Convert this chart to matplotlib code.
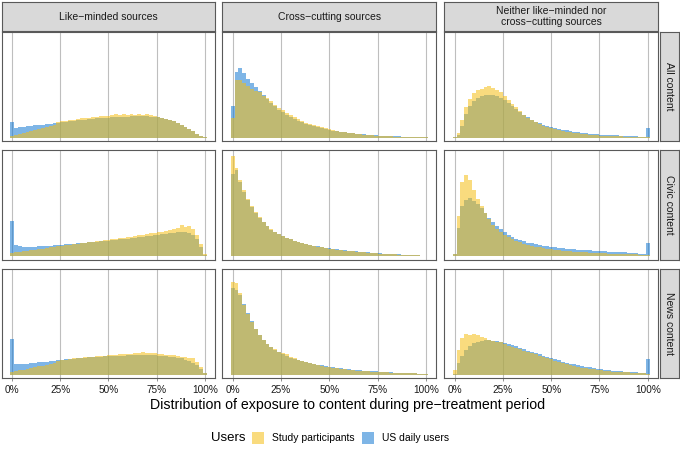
import numpy as np
import matplotlib.pyplot as plt
from matplotlib.patches import Rectangle

plt.rcParams['font.family'] = ['Liberation Sans', 'DejaVu Sans']

# column / row facets
col_labels = ['Like−minded sources', 'Cross−cutting sources',
              'Neither like−minded nor\ncross−cutting sources']
row_labels = ['All content', 'Civic content', 'News content']
tick_pos = [0, 25, 50, 75, 100]
tick_labels = ['0%', '25%', '50%', '75%', '100%']

# histogram heights, 2% bins centred on 0, 2, ..., 100
bin_centers = np.arange(0, 101, 2)

us_like_all = [16, 10, 10.5, 11, 11.4, 11.8, 12.2, 12.6, 13, 13.4, 13.8, 14.3, 14.8, 15.3, 15.8, 16.3, 16.8,
               17.2, 17.6, 18, 18.4, 18.8, 19.2, 19.5, 19.8, 20.1, 20.4, 20.6, 20.8, 21, 21.1, 21.2, 21.3,
               21.3, 21.3, 21.2, 21.1, 20.9, 20.6, 20, 19, 17.8, 16.2, 14.5, 12.6, 10.6, 8.5, 6.3, 4, 1.8, 0.3]
study_like_all = [1.5, 2.5, 3.6, 4.7, 5.8, 6.8, 7.8, 8.8, 9.8, 10.8, 11.8, 13, 15.5, 16.5, 16.8, 17.5, 18,
                  18.8, 19.2, 19.5, 20, 20.8, 20.5, 21.5, 21.8, 22, 22.8, 23.5, 22.5, 24, 23, 23.5, 22.5,
                  23.8, 23, 23.2, 22.5, 22, 21, 20, 19, 17.8, 16.2, 14.5, 12.6, 10.6, 8.5, 6.3, 4, 1.8, 0.3]

us_cross_all = [32, 66, 70, 65, 59, 55, 51, 46.5, 42.5, 38.5, 35, 31.5, 28, 25.5, 23, 21, 19, 17, 15.5, 14,
                12.8, 11.6, 10.5, 9.5, 8.6, 7.8, 7, 6.3, 5.7, 5.1, 4.6, 4.2, 3.8, 3.4, 3.1, 2.8, 2.5, 2.2, 2,
                1.8, 1.6, 1.4, 1.2, 1.05, 0.9, 0.75, 0.6, 0.5, 0.4, 0.3, 0.2]
study_cross_all = [20, 58, 58, 55, 52, 49, 47, 45.5, 41.5, 39.5, 36.5, 33, 30, 27.5, 25, 22.5, 20.5, 18.5,
                   16.5, 15, 13.7, 12.4, 11.2, 10.1, 9.1, 8.2, 7.3, 6.5, 5.8, 5.2, 4.6, 4.1, 3.6, 3.2, 2.8,
                   2.5, 2.2, 1.9, 1.7, 1.5, 1.3, 1.1, 1, 0.85, 0.7, 0.6, 0.5, 0.4, 0.3, 0.25, 0.2]

us_neither_all = [0.5, 3, 12, 24, 32, 37, 40, 41.5, 42.5, 43, 42.8, 42, 40, 37.5, 35, 32, 29, 26, 23, 20.5,
                  18, 16, 14.3, 12.8, 11.6, 10.5, 9.6, 8.7, 7.9, 7.1, 6.4, 5.8, 5.2, 4.7, 4.3, 3.9, 3.6,
                  3.3, 3, 2.7, 2.5, 2.3, 2.1, 1.9, 1.7, 1.5, 1.3, 1.15, 1, 0.9, 10]
study_neither_all = [0.3, 5, 18, 31, 39, 45, 48, 49, 50.5, 52, 49.5, 48, 45.5, 42, 38, 34, 30.5, 26.5, 23,
                     20, 17.5, 15.3, 13.5, 12, 10.6, 9.4, 8.4, 7.5, 6.7, 6, 5.3, 4.7, 4.2, 3.7, 3.3, 2.9,
                     2.6, 2.3, 2, 1.8, 1.6, 1.4, 1.25, 1.1, 1, 0.9, 0.8, 0.7, 0.6, 0.5, 0.5]

us_like_civic = [35, 11, 9.8, 9.4, 9.3, 9.3, 9.4, 9.6, 9.8, 10.1, 10.4, 10.7, 11, 11.3, 11.6, 12, 12.4, 12.8,
                 13.2, 13.5, 13.9, 14.2, 14.5, 14.8, 15.1, 15.4, 15.8, 16.2, 16.6, 17, 17.4, 17.9, 18.4,
                 18.9, 19.4, 19.9, 20.4, 20.9, 21.4, 21.9, 22.4, 22.9, 23.3, 23.6, 23.8, 23.8, 23.2, 21.5,
                 17, 9, 1.5]
study_like_civic = [3.5, 4, 4.5, 5, 5.5, 6, 6.5, 7, 7.5, 8, 8.6, 9.2, 9.8, 10.3, 10.8, 11.3, 11.8, 12.3, 12.8,
                    13.3, 13.8, 14.3, 14.8, 15.3, 15.8, 16.3, 16.8, 17.3, 17.8, 18.3, 18.8, 19.4, 20, 20.6,
                    21.2, 21.8, 22.8, 23.5, 24, 24.5, 25.2, 26, 27, 28.5, 31.5, 29.5, 30.5, 27, 21, 12, 2]

us_cross_civic = [82, 86, 74, 64, 56, 49, 43, 38, 34, 30, 26.5, 24, 21.8, 19.8, 18.1, 16.7, 15.4, 14.2, 13.1,
                  12.2, 11.3, 10.5, 9.8, 9.1, 8.5, 7.9, 7.3, 6.8, 6.3, 5.8, 5.4, 5, 4.6, 4.2, 3.9, 3.6, 3.3,
                  3, 2.7, 2.4, 2.2, 2, 1.8, 1.6, 1.4, 1.2, 1, 0.85, 0.7, 0.5, 0.3]
study_cross_civic = [100, 88, 76, 66, 57, 50, 44, 39, 34.5, 30.5, 27, 24.5, 22, 20, 18.3, 16.8, 15.4, 14.1, 13,
                     12, 11.1, 10.3, 9.5, 8.8, 8.1, 7.5, 6.9, 6.4, 5.9, 5.4, 5, 4.6, 4.2, 3.9, 3.6, 3.3, 3,
                     2.8, 2.5, 2.3, 2.1, 1.9, 1.7, 1.5, 1.3, 1.15, 1, 0.8, 0.65, 0.5, 0.3]

us_neither_civic = [2, 28, 50, 56, 57.5, 55, 51.5, 47.5, 42.5, 38, 34, 30.5, 27, 24, 21.5, 19.3, 17.5, 16,
                    14.7, 13.5, 12.6, 11.8, 11, 10.3, 9.7, 9.2, 8.7, 8.3, 7.8, 7.4, 7, 6.7, 6.4, 6.1, 5.8,
                    5.6, 5.4, 5.1, 4.9, 4.7, 4.5, 4.3, 4.1, 3.9, 3.6, 3.4, 3.1, 2.8, 2.4, 2, 13]
study_neither_civic = [2, 40, 74, 81, 76, 66, 57, 50, 43, 37, 31, 27, 24, 21.3, 19, 17, 15.2, 13.7, 12.4,
                       11.3, 10.3, 9.5, 8.7, 8, 7.3, 6.7, 6.2, 5.7, 5.3, 4.9, 4.6, 4.3, 4, 3.8, 3.6, 3.4,
                       3.2, 3, 2.8, 2.6, 2.5, 2.3, 2.2, 2, 1.9, 1.8, 1.7, 1.6, 1.5, 1.3, 1]

us_like_news = [36, 11, 10.2, 10.5, 10.9, 11.3, 11.7, 12.1, 12.5, 13, 13.5, 14, 14.6, 15, 15.4, 15.7, 16,
                16.3, 16.6, 16.9, 17.2, 17.5, 17.8, 18, 18.2, 18.4, 18.6, 18.8, 19, 19.1, 19.2, 19.3, 19.4,
                19.5, 19.5, 19.5, 19.4, 19.3, 19.1, 18.8, 18.4, 18, 17.5, 16.9, 16.1, 15, 13.7, 12, 9.5, 6,
                1.5]
study_like_news = [2.7, 3.5, 4.2, 5, 5.8, 6.6, 7.4, 8.2, 9, 9.9, 10.9, 12, 13.6, 14.6, 15, 15.6, 16.2, 16.3,
                   16.8, 17.4, 17.6, 18, 18.3, 18.9, 18.8, 19.3, 19.8, 19.6, 20.2, 20.4, 20.8, 20.6, 21.2,
                   21.6, 22.6, 21.8, 21.5, 21.2, 20.7, 20.9, 20, 19.7, 19.3, 18.6, 18, 17.3, 16.8, 16.3,
                   12.5, 7.5, 1.5]

us_cross_news = [87, 85, 80, 71, 62, 53.5, 46, 40, 35, 31, 27.5, 24.8, 22.3, 20.3, 18.5, 17, 15.7, 14.5,
                 13.4, 12.4, 11.5, 10.6, 9.8, 9.1, 8.4, 7.8, 7.2, 6.7, 6.2, 5.7, 5.3, 4.9, 4.5, 4.2, 3.9,
                 3.6, 3.3, 3.1, 2.8, 2.6, 2.4, 2.2, 2, 1.8, 1.6, 1.4, 1.25, 1.1, 0.95, 0.8, 0.6]
study_cross_news = [93, 92, 82, 70, 61, 53, 45.5, 39.5, 35, 31, 28, 25.5, 23, 21.5, 20.5, 18, 16.3, 15, 13.7,
                    12.5, 11.3, 10.3, 9.4, 8.6, 7.9, 7.3, 6.7, 6.1, 5.6, 5.1, 4.7, 4.3, 4, 3.7, 3.4, 3.1,
                    2.9, 2.7, 2.5, 2.3, 2.1, 1.9, 1.8, 1.6, 1.5, 1.3, 1.2, 1.05, 0.9, 0.8, 0.6]

us_neither_news = [1, 12, 19, 25, 29, 31.5, 33, 33.8, 34.2, 34.2, 34, 33.5, 32.8, 32, 31, 29.8, 28.4, 27,
                   25.5, 24, 22.8, 21.5, 20.2, 18.9, 17.7, 16.5, 15.3, 14.1, 13, 12, 11, 10.1, 9.2, 8.5, 7.8,
                   7.1, 6.5, 5.9, 5.3, 4.8, 4.4, 4, 3.6, 3.3, 3, 2.7, 2.4, 2.2, 2, 1.7, 16]
study_neither_news = [5, 25, 37, 40.5, 40, 40.5, 39.5, 38, 36.5, 35, 33.8, 33, 32.5, 30.5, 29, 27.8, 26.5,
                      25.2, 24, 22.7, 21.5, 20.3, 19, 17.7, 16.4, 15.2, 14, 12.8, 11.6, 10.5, 9.5, 8.6, 7.8,
                      7, 6.3, 5.7, 5.1, 4.6, 4.1, 3.7, 3.3, 3, 2.8, 2.6, 2.4, 2.2, 2, 1.8, 1.6, 1.3, 1]

grid = [[(study_like_all, us_like_all), (study_cross_all, us_cross_all), (study_neither_all, us_neither_all)],
        [(study_like_civic, us_like_civic), (study_cross_civic, us_cross_civic),
         (study_neither_civic, us_neither_civic)],
        [(study_like_news, us_like_news), (study_cross_news, us_cross_news),
         (study_neither_news, us_neither_news)]]

yellow = (245/255, 190/255, 20/255)
blue = (20/255, 120/255, 210/255)
alpha = 0.55
edges = np.append(bin_centers - 1, bin_centers[-1] + 1)

W, H = 680, 451
fig = plt.figure(figsize=(W/100, H/100), dpi=100)


def box(x0, y0, x1, y1):
    # pixel box (top-left origin) -> figure fraction rect
    return [x0/W, (H - y1)/H, (x1 - x0)/W, (y1 - y0)/H]


col_x = [(1.5, 215), (222, 436.5), (444, 658)]
row_y = [(32, 141), (150, 259.5), (269, 378)]
border = '#595959'

for i, (y0, y1) in enumerate(row_y):
    for j, (x0, x1) in enumerate(col_x):
        ax = fig.add_axes(box(x0, y0, x1, y1))
        study, us = grid[i][j]
        for v in tick_pos:
            ax.axvline(v, color='#BEBEBE', lw=0.8, zorder=0)
        ax.stairs(us, edges, fill=True, color=blue, alpha=alpha, lw=0, zorder=2)
        ax.stairs(study, edges, fill=True, color=yellow, alpha=alpha, lw=0, zorder=3)
        ax.set_xlim(-5.5, 105.3)
        ax.set_ylim(-3.5, 106)
        ax.set_yticks([])
        for s in ax.spines.values():
            s.set_color(border)
            s.set_linewidth(0.8)
        ax.set_xticks(tick_pos)
        if i == 2:
            ax.set_xticklabels(tick_labels, fontsize=7.2, color='#1a1a1a')
            ax.tick_params(axis='x', length=2.2, width=0.6, color='#7f7f7f', pad=2.5)
        else:
            ax.tick_params(axis='x', length=0, labelbottom=False)

# column strips
for j, (x0, x1) in enumerate(col_x):
    sax = fig.add_axes(box(x0, 2, x1, 31))
    sax.set_facecolor('#D9D9D9')
    sax.set_xticks([])
    sax.set_yticks([])
    for s in sax.spines.values():
        s.set_color(border)
        s.set_linewidth(0.8)
    sax.text(0.5, 0.5, col_labels[j], ha='center', va='center', fontsize=7.5,
             color='#1a1a1a', linespacing=1.15, transform=sax.transAxes)

# row strips
for i, (y0, y1) in enumerate(row_y):
    sax = fig.add_axes(box(660, y0, 679, y1))
    sax.set_facecolor('#D9D9D9')
    sax.set_xticks([])
    sax.set_yticks([])
    for s in sax.spines.values():
        s.set_color(border)
        s.set_linewidth(0.8)
    sax.text(0.5, 0.5, row_labels[i], ha='center', va='center', fontsize=7.5, rotation=-90,
             color='#1a1a1a', transform=sax.transAxes)

fig.text(348/W, 1 - 405/H, 'Distribution of exposure to content during pre−treatment period',
         ha='center', va='center', fontsize=10.2, color='black')

# legend
fig.text(211/W, 1 - 438/H, 'Users', ha='left', va='center', fontsize=9.5)
for kx, col, lab in [(252, yellow, 'Study participants'), (362, blue, 'US daily users')]:
    fig.patches.append(Rectangle((kx/W, 1 - 444/H), 12/W, 12/H, transform=fig.transFigure,
                                 facecolor=col, alpha=alpha, lw=0))
    fig.text((kx + 19.5)/W, 1 - 438/H, lab, ha='left', va='center', fontsize=7.5)

fig.savefig('out.png', dpi=100)
